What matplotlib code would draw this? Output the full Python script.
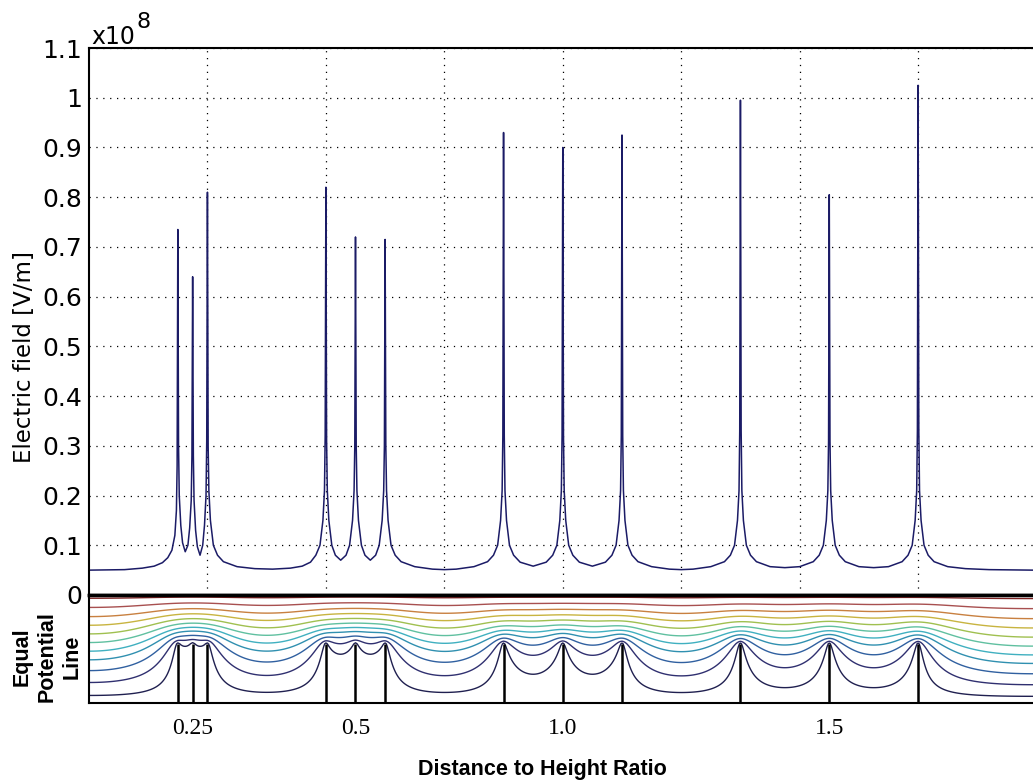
import numpy as np
import matplotlib
matplotlib.use('Agg')
import matplotlib.pyplot as plt

# electric field along the strip (x in rod-height units, E in 1e8 V/m)
field_x = [0.00, 0.30, 0.45, 0.55, 0.62, 0.665, 0.70, 0.725, 0.738, 0.744, 0.75,
           0.756, 0.762, 0.775, 0.79, 0.8125, 0.835, 0.85, 0.863, 0.869, 0.875,
           0.881, 0.887, 0.90, 0.915, 0.9375, 0.96, 0.975, 0.988, 0.994, 1.0,
           1.006, 1.012, 1.025, 1.05, 1.085, 1.135, 1.25, 1.40, 1.55, 1.70, 1.80,
           1.87, 1.915, 1.95, 1.975, 1.988, 1.994, 2.0,
           2.006, 2.012, 2.025, 2.05, 2.08, 2.125, 2.17, 2.20, 2.225, 2.238, 2.244, 2.25,
           2.256, 2.262, 2.275, 2.30, 2.33, 2.375, 2.42, 2.45, 2.475, 2.488, 2.494, 2.5,
           2.506, 2.512, 2.525, 2.55, 2.585, 2.635, 2.75, 2.90, 3.0, 3.10, 3.25,
           3.365, 3.415, 3.45, 3.475, 3.488, 3.494, 3.5,
           3.506, 3.512, 3.525, 3.55, 3.585, 3.64, 3.75, 3.86, 3.915, 3.95, 3.975, 3.988, 3.994, 4.0,
           4.006, 4.012, 4.025, 4.05, 4.085, 4.14, 4.25, 4.36, 4.415, 4.45, 4.475, 4.488, 4.494, 4.5,
           4.506, 4.512, 4.525, 4.55, 4.585, 4.635, 4.75, 4.90, 5.0, 5.10, 5.25,
           5.365, 5.415, 5.45, 5.475, 5.488, 5.494, 5.5,
           5.506, 5.512, 5.525, 5.55, 5.585, 5.635, 5.75, 5.875, 6.0,
           6.115, 6.165, 6.20, 6.225, 6.238, 6.244, 6.25,
           6.256, 6.262, 6.275, 6.30, 6.335, 6.385, 6.50, 6.625, 6.75,
           6.865, 6.915, 6.95, 6.975, 6.988, 6.994, 7.0,
           7.006, 7.012, 7.025, 7.05, 7.085, 7.135, 7.25, 7.40, 7.60, 7.97]
field_y = [0.050, 0.051, 0.054, 0.058, 0.065, 0.075, 0.090, 0.120, 0.170, 0.260, 0.735,
           0.300, 0.200, 0.140, 0.105, 0.087, 0.100, 0.135, 0.190, 0.280, 0.640,
           0.280, 0.190, 0.130, 0.097, 0.080, 0.100, 0.140, 0.200, 0.310, 0.810,
           0.300, 0.210, 0.150, 0.100, 0.080, 0.067, 0.057, 0.053, 0.052, 0.054, 0.058,
           0.066, 0.080, 0.100, 0.150, 0.210, 0.320, 0.820,
           0.310, 0.210, 0.150, 0.100, 0.080, 0.070, 0.080, 0.100, 0.150, 0.210, 0.300, 0.720,
           0.300, 0.210, 0.150, 0.100, 0.080, 0.070, 0.080, 0.100, 0.150, 0.210, 0.300, 0.715,
           0.300, 0.210, 0.150, 0.100, 0.080, 0.067, 0.057, 0.052, 0.051, 0.052, 0.057,
           0.067, 0.080, 0.100, 0.150, 0.210, 0.320, 0.930,
           0.320, 0.210, 0.150, 0.100, 0.080, 0.066, 0.058, 0.066, 0.080, 0.100, 0.150, 0.210, 0.320, 0.900,
           0.320, 0.210, 0.150, 0.100, 0.080, 0.066, 0.058, 0.066, 0.080, 0.100, 0.150, 0.210, 0.320, 0.925,
           0.320, 0.210, 0.150, 0.100, 0.080, 0.067, 0.057, 0.052, 0.051, 0.052, 0.057,
           0.067, 0.080, 0.100, 0.150, 0.210, 0.330, 0.995,
           0.330, 0.210, 0.150, 0.100, 0.080, 0.067, 0.057, 0.055, 0.057,
           0.067, 0.080, 0.100, 0.150, 0.210, 0.310, 0.805,
           0.310, 0.210, 0.150, 0.100, 0.080, 0.067, 0.057, 0.055, 0.057,
           0.067, 0.080, 0.100, 0.150, 0.210, 0.330, 1.025,
           0.330, 0.210, 0.150, 0.100, 0.080, 0.067, 0.057, 0.053, 0.051, 0.050]

# electrodes (rods) below the strip
rod_pos = [0.75, 0.875, 1.0, 2.0, 2.25, 2.5, 3.5, 4.0, 4.5, 5.5, 6.25, 7.0]
rod_height = 0.5
ratio_pos = [0.875, 2.25, 4.0, 6.25]
ratio_labels = ['0.25', '0.5', '1.0', '1.5']
# heights of the equal potential lines at the left edge (fraction of panel)
line_heights = [0.07, 0.19, 0.30, 0.40, 0.48, 0.56, 0.64, 0.72, 0.80, 0.885, 0.97]
line_colors = ['#202050', '#303070', '#3060a0', '#3090b0', '#40b0c0', '#60c0a0',
               '#a0c050', '#c8b440', '#c88040', '#a85050', '#7a2020']

XMAX = 7.97
H = 0.9125

# --- potential below the strip: top at V=1, floor and rods grounded ---
dx = 0.0125
xg = np.arange(0, XMAX + dx, dx)
yg = np.arange(0, H + dx / 2, dx)
V = np.tile(yg / H, (len(xg), 1)).T
fixed = np.zeros_like(V, dtype=bool)
fixed[0, :] = True
fixed[-1, :] = True
n_rod = int(round(rod_height / dx))
for p in rod_pos:
    fixed[:n_rod + 1, int(round(p / dx))] = True
Vfix = np.zeros_like(V)
Vfix[-1, :] = 1.0
for it in range(7000):
    Vn = V.copy()
    Vn[1:-1, 1:-1] = 0.25 * (V[:-2, 1:-1] + V[2:, 1:-1] + V[1:-1, :-2] + V[1:-1, 2:])
    Vn[:, 0] = Vn[:, 1]
    Vn[:, -1] = Vn[:, -2]
    Vn[fixed] = Vfix[fixed]
    V = Vn
levels = np.interp(np.array(line_heights) * H, yg, V[:, 0])

fig = plt.figure(figsize=(10.33, 7.82), dpi=100)
left = 89 / 1033
ax = fig.add_axes([left, 1 - 595 / 782, 1 - left, 547 / 782])
ax2 = fig.add_axes([left, 1 - 703 / 782, 1 - left, 108 / 782])

ax.plot(field_x, field_y, color='#1b1b66', lw=1.1)
ax.set_xlim(0, XMAX)
ax.set_ylim(0, 1.1)
ax.set_yticks(np.arange(0, 1.11, 0.1))
ax.set_yticklabels(['0', '0.1', '0.2', '0.3', '0.4', '0.5', '0.6', '0.7', '0.8', '0.9', '1', '1.1'])
ax.set_xticks(range(1, 8))
ax.tick_params(axis='x', labelbottom=False, length=0)
ax.tick_params(axis='y', length=0, pad=5, labelsize=18)
ax.grid(True, color='black', lw=0.9, linestyle=(0, (1, 4.5)))
for s in ['left', 'top']:
    ax.spines[s].set_linewidth(1.5)
ax.spines['bottom'].set_linewidth(2.5)
ax.spines['right'].set_visible(False)

ax2.contour(xg, yg, V, levels=levels, colors=line_colors, linewidths=1.0)
ax2.vlines(rod_pos, 0, rod_height, color='black', lw=1.8)
ax2.set_xlim(0, XMAX)
ax2.set_ylim(0, H)
ax2.set_yticks([])
ax2.set_xticks(ratio_pos)
ax2.set_xticklabels(ratio_labels, family='Liberation Serif', fontsize=17)
ax2.tick_params(axis='x', length=0, pad=11)
for s in ['left', 'bottom']:
    ax2.spines[s].set_linewidth(1.5)
ax2.spines['top'].set_linewidth(2.5)
ax2.spines['right'].set_visible(False)

fig.text(25 / 1033, 1 - 357 / 782, 'Electric field [V/m]', rotation=90,
         ha='center', va='center', fontsize=16.5)
fig.text(91 / 1033, 1 - 44 / 782, 'x10', fontsize=17, va='baseline')
fig.text(137 / 1033, 1 - 28 / 782, '8', fontsize=16, va='baseline')
fig.text(47 / 1033, 1 - 657 / 782, 'Equal\nPotential\nLine', rotation=90,
         ha='center', va='center', ma='center', fontsize=15.5, fontweight='bold',
         family='Liberation Sans', linespacing=1.25)
fig.text(542 / 1033, 1 - 770 / 782, 'Distance to Height Ratio', ha='center', va='center',
         fontsize=15.5, fontweight='bold', family='Liberation Sans')

fig.savefig('out.png', dpi=100)
